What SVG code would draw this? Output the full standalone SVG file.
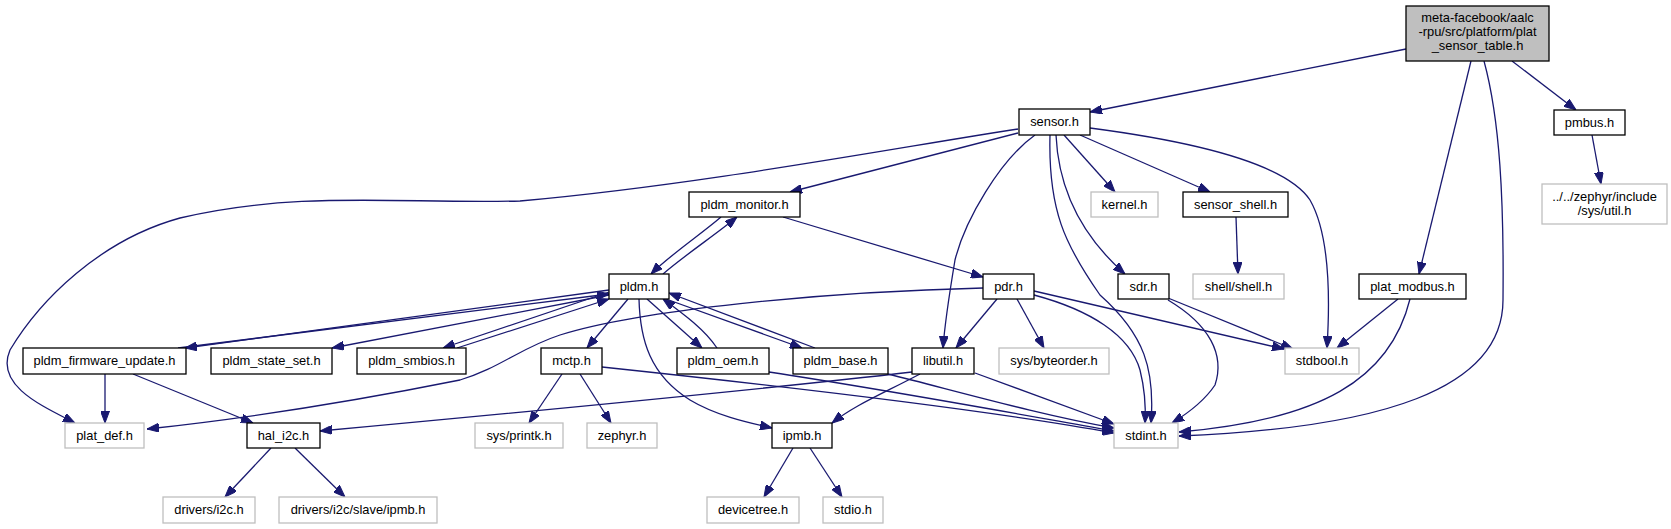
<svg xmlns="http://www.w3.org/2000/svg" width="1671" height="529" viewBox="0 0 1671 529">
<style>
.n rect{fill:#ffffff;stroke:#000000;stroke-width:1.3}
.g rect{fill:#ffffff;stroke:#bfbfbf;stroke-width:1.3}
.m rect{fill:#bfbfbf;stroke:#000000;stroke-width:1.3}
text{font-family:"Liberation Sans",Arial,Helvetica,sans-serif;font-size:12.9px;fill:#000000;text-anchor:middle}
#edges path{fill:none;stroke:#191970;stroke-width:1.3;marker-end:url(#ah)}
</style>
<defs>
<marker id="ah" viewBox="0 0 12 9" refX="12" refY="4.5" markerWidth="12" markerHeight="9" markerUnits="userSpaceOnUse" orient="auto">
<path d="M0,0 L12,4.5 L0,9 z" fill="#191970" stroke="#191970" stroke-width="1"/>
</marker>
</defs>
<rect x="0" y="0" width="1671" height="529" fill="#ffffff"/>
<g id="edges">
<path d="M1406,49 L1090,112"/>
<path d="M1471,61 L1419,274"/>
<path d="M1484,61 C1500,120 1504,200 1503,300 C1503,390 1380,428 1179,436"/>
<path d="M1512,61 L1576,110"/>
<path d="M1592,135 L1601,184"/>
<path d="M1018,129 C900,147 700,185 520,201 C400,204 300,190 180,218 C100,240 40,300 10,350 C-5,385 40,405 75,423"/>
<path d="M1018,133 L790,192"/>
<path d="M1035,135 C1000,160 965,220 955,260 C950,290 945,320 943,348"/>
<path d="M1064,135 L1115,192"/>
<path d="M1080,135 L1210,192"/>
<path d="M1090,128 C1220,145 1290,170 1310,200 C1330,235 1330,300 1327,348"/>
<path d="M1056,135 C1058,180 1075,230 1125,274"/>
<path d="M1050,135 C1048,210 1065,245 1100,295 C1145,335 1155,370 1151,423"/>
<path d="M1236,217 L1238,274"/>
<path d="M721,217 C700,235 670,255 651,274"/>
<path d="M663,274 C685,255 715,235 737,217"/>
<path d="M783,217 L983,277"/>
<path d="M609,290 L185,348"/>
<path d="M178,348 L609,294"/>
<path d="M609,295 L332,348"/>
<path d="M609,292 L443,348"/>
<path d="M457,348 L609,299"/>
<path d="M628,299 L587,348"/>
<path d="M639,299 C640,340 650,375 690,400 C715,415 745,422 772,428"/>
<path d="M647,299 L702,348"/>
<path d="M717,348 C705,330 685,315 663,299"/>
<path d="M666,299 L802,348"/>
<path d="M815,348 L669,293"/>
<path d="M983,288 C820,292 640,310 560,335 C520,348 500,368 460,380 C360,400 250,418 147,429"/>
<path d="M997,299 L956,348"/>
<path d="M1017,299 L1044,348"/>
<path d="M1034,291 L1284,349"/>
<path d="M1034,295 C1090,310 1130,335 1140,370 C1145,390 1146,405 1145,423"/>
<path d="M1168,298 L1293,349"/>
<path d="M1168,300 C1210,325 1225,355 1215,385 C1205,400 1190,412 1172,423"/>
<path d="M1398,299 L1337,348"/>
<path d="M1410,299 C1390,380 1320,420 1179,432"/>
<path d="M105,374 L105,423"/>
<path d="M133,374 L253,423"/>
<path d="M562,374 L529,423"/>
<path d="M580,374 L611,423"/>
<path d="M602,367 C800,388 1000,412 1114,433"/>
<path d="M769,372 C900,392 1040,418 1114,431"/>
<path d="M888,374 C960,392 1040,415 1114,428"/>
<path d="M975,373 L1114,424"/>
<path d="M912,372 C800,385 600,405 320,431"/>
<path d="M920,374 C880,395 855,405 832,423"/>
<path d="M271,448 L225,497"/>
<path d="M295,448 L345,497"/>
<path d="M793,448 L764,497"/>
<path d="M810,448 L842,497"/>
</g>
<g id="node-main" class="m"><rect x="1406" y="6" width="143" height="55"/><text x="1477.5" y="21.8">meta-facebook/aalc</text><text x="1477.5" y="36">-rpu/src/platform/plat</text><text x="1477.5" y="50.2">_sensor_table.h</text></g>
<g id="node-sensor" class="n"><rect x="1019" y="109" width="71" height="26"/><text x="1054.5" y="126">sensor.h</text></g>
<g id="node-pmbus" class="n"><rect x="1554" y="110" width="71" height="25"/><text x="1589.5" y="126.5">pmbus.h</text></g>
<g id="node-pldm_monitor" class="n"><rect x="689" y="192" width="111" height="25"/><text x="744.5" y="208.5">pldm_monitor.h</text></g>
<g id="node-kernel" class="g"><rect x="1091" y="192" width="67" height="25"/><text x="1124.5" y="208.5">kernel.h</text></g>
<g id="node-sensor_shell" class="n"><rect x="1183" y="192" width="105" height="25"/><text x="1235.5" y="208.5">sensor_shell.h</text></g>
<g id="node-util" class="g"><rect x="1542" y="184" width="125" height="40"/><text x="1604.5" y="200.8">../../zephyr/include</text><text x="1604.5" y="215">/sys/util.h</text></g>
<g id="node-pldm" class="n"><rect x="609" y="274" width="60" height="25"/><text x="639" y="290.5">pldm.h</text></g>
<g id="node-pdr" class="n"><rect x="983" y="274" width="51" height="25"/><text x="1008.5" y="290.5">pdr.h</text></g>
<g id="node-sdr" class="n"><rect x="1118" y="274" width="51" height="25"/><text x="1143.5" y="290.5">sdr.h</text></g>
<g id="node-shell" class="g"><rect x="1193" y="274" width="91" height="25"/><text x="1238.5" y="290.5">shell/shell.h</text></g>
<g id="node-plat_modbus" class="n"><rect x="1359" y="274" width="107" height="25"/><text x="1412.5" y="290.5">plat_modbus.h</text></g>
<g id="node-pldm_firmware_update" class="n"><rect x="23" y="348" width="163" height="26"/><text x="104.5" y="365">pldm_firmware_update.h</text></g>
<g id="node-pldm_state_set" class="n"><rect x="211" y="348" width="121" height="26"/><text x="271.5" y="365">pldm_state_set.h</text></g>
<g id="node-pldm_smbios" class="n"><rect x="357" y="348" width="109" height="26"/><text x="411.5" y="365">pldm_smbios.h</text></g>
<g id="node-mctp" class="n"><rect x="541" y="348" width="61" height="26"/><text x="571.5" y="365">mctp.h</text></g>
<g id="node-pldm_oem" class="n"><rect x="677" y="348" width="92" height="26"/><text x="723" y="365">pldm_oem.h</text></g>
<g id="node-pldm_base" class="n"><rect x="793" y="348" width="95" height="26"/><text x="840.5" y="365">pldm_base.h</text></g>
<g id="node-libutil" class="n"><rect x="912" y="348" width="62" height="26"/><text x="943" y="365">libutil.h</text></g>
<g id="node-byteorder" class="g"><rect x="999" y="348" width="110" height="26"/><text x="1054" y="365">sys/byteorder.h</text></g>
<g id="node-stdbool" class="g"><rect x="1285" y="348" width="74" height="26"/><text x="1322" y="365">stdbool.h</text></g>
<g id="node-plat_def" class="g"><rect x="65" y="423" width="79" height="25"/><text x="104.5" y="439.5">plat_def.h</text></g>
<g id="node-hal_i2c" class="n"><rect x="247" y="423" width="73" height="25"/><text x="283.5" y="439.5">hal_i2c.h</text></g>
<g id="node-printk" class="g"><rect x="475" y="423" width="88" height="25"/><text x="519" y="439.5">sys/printk.h</text></g>
<g id="node-zephyr" class="g"><rect x="587" y="423" width="70" height="25"/><text x="622" y="439.5">zephyr.h</text></g>
<g id="node-ipmb" class="n"><rect x="772" y="423" width="60" height="25"/><text x="802" y="439.5">ipmb.h</text></g>
<g id="node-stdint" class="g"><rect x="1114" y="423" width="64" height="25"/><text x="1146" y="439.5">stdint.h</text></g>
<g id="node-drivers_i2c" class="g"><rect x="163" y="497" width="92" height="26"/><text x="209" y="514">drivers/i2c.h</text></g>
<g id="node-drivers_slave_ipmb" class="g"><rect x="279" y="497" width="158" height="26"/><text x="358" y="514">drivers/i2c/slave/ipmb.h</text></g>
<g id="node-devicetree" class="g"><rect x="707" y="497" width="92" height="26"/><text x="753" y="514">devicetree.h</text></g>
<g id="node-stdio" class="g"><rect x="823" y="497" width="60" height="26"/><text x="853" y="514">stdio.h</text></g>
</svg>
